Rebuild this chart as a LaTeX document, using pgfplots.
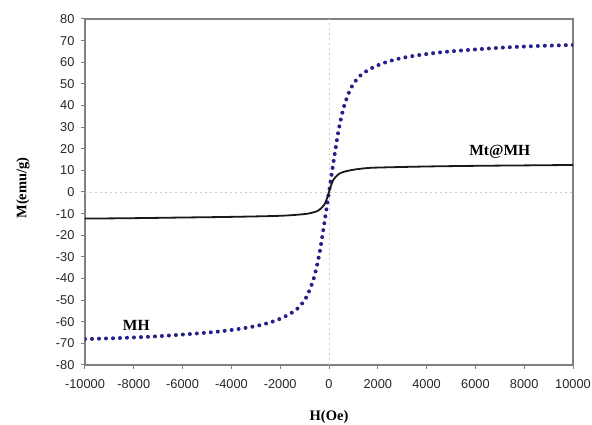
\documentclass[border=0pt]{standalone}
\usepackage{pgfplots}
\pgfplotsset{compat=1.18}
\usepackage{fontspec}
\setmainfont{Liberation Serif}
\setsansfont{Liberation Sans}
\definecolor{mhblue}{RGB}{38,32,138}
\definecolor{axgray}{RGB}{128,128,128}

\begin{document}
\begin{tikzpicture}
\useasboundingbox (-85pt,-60pt) rectangle (507pt,365pt);
\begin{axis}[
    scale only axis,
    width=488pt, height=346pt,
    xmin=-10000, xmax=10000,
    ymin=-80, ymax=80,
    xtick={-10000,-8000,...,10000},
    ytick={-80,-70,...,80},
    axis line style={axgray, line width=1.2pt},
    tick style={axgray, line width=1pt},
    major tick length=4pt,
    tick align=outside,
    xtick pos=bottom, ytick pos=left,
    /pgf/number format/assume math mode=true,
    /pgf/number format/1000 sep={},
    scaled x ticks=false,
    ticklabel style={font=\sffamily\fontsize{12.8}{13}\selectfont, text=black!85},
    xticklabel style={yshift=-7pt},
    yticklabel style={xshift=-3pt},
]

\draw[black!20, dash pattern=on 2pt off 3pt, line width=0.7pt] (axis cs:-10000,0) -- (axis cs:10000,0);
\draw[black!20, dash pattern=on 2pt off 3pt, line width=0.7pt] (axis cs:0,-80) -- (axis cs:0,80);

% MH
\addplot[mhblue, line width=4pt, line cap=round, dash pattern=on 0pt off 7pt, smooth, tension=0.5]
    coordinates {
    (-10000,-68)(-8500,-67.5)(-7000,-66.7)(-5500,-65.5)(-4500,-64.5)(-3500,-63)
    (-2800,-61.5)(-2200,-59.5)(-1700,-57)(-1300,-54)(-1000,-50)(-800,-45.5)
    (-600,-39)(-400,-29)(-200,-15)(0,0)(200,15)(400,29)(600,39)(800,45.5)
    (1000,50)(1300,54)(1700,57)(2200,59.5)(2800,61.5)(3500,63)(4500,64.5)
    (5500,65.5)(7000,66.7)(8500,67.5)(10000,68)};

% Mt@MH
\addplot[black!90, line width=1.8pt, smooth, tension=0.5]
    coordinates {
    (-10000,-12.3)(-8000,-12.1)(-6000,-11.8)(-4000,-11.5)(-2000,-11)(-1000,-10.2)
    (-600,-9.3)(-400,-8.3)(-200,-6)(-100,-3.5)(0,0)(100,3.5)(200,6)(400,8.3)
    (600,9.3)(1000,10.3)(1500,11)(2000,11.3)(4000,11.8)(6000,12.1)(8000,12.3)(10000,12.5)};

\node[font=\bfseries\fontsize{15.5}{15.5}\selectfont] at (axis cs:7000,18.5) {Mt@MH};
\node[font=\bfseries\fontsize{15.5}{15.5}\selectfont] at (axis cs:-7900,-61.5) {MH};
\end{axis}
\node[rotate=90, font=\bfseries\fontsize{14.5}{14.5}\selectfont] at (-62pt,177pt) {M(emu/g)};
\node[font=\bfseries\fontsize{14.5}{14.5}\selectfont] at (244pt,-52pt) {H(Oe)};
\end{tikzpicture}
\end{document}
